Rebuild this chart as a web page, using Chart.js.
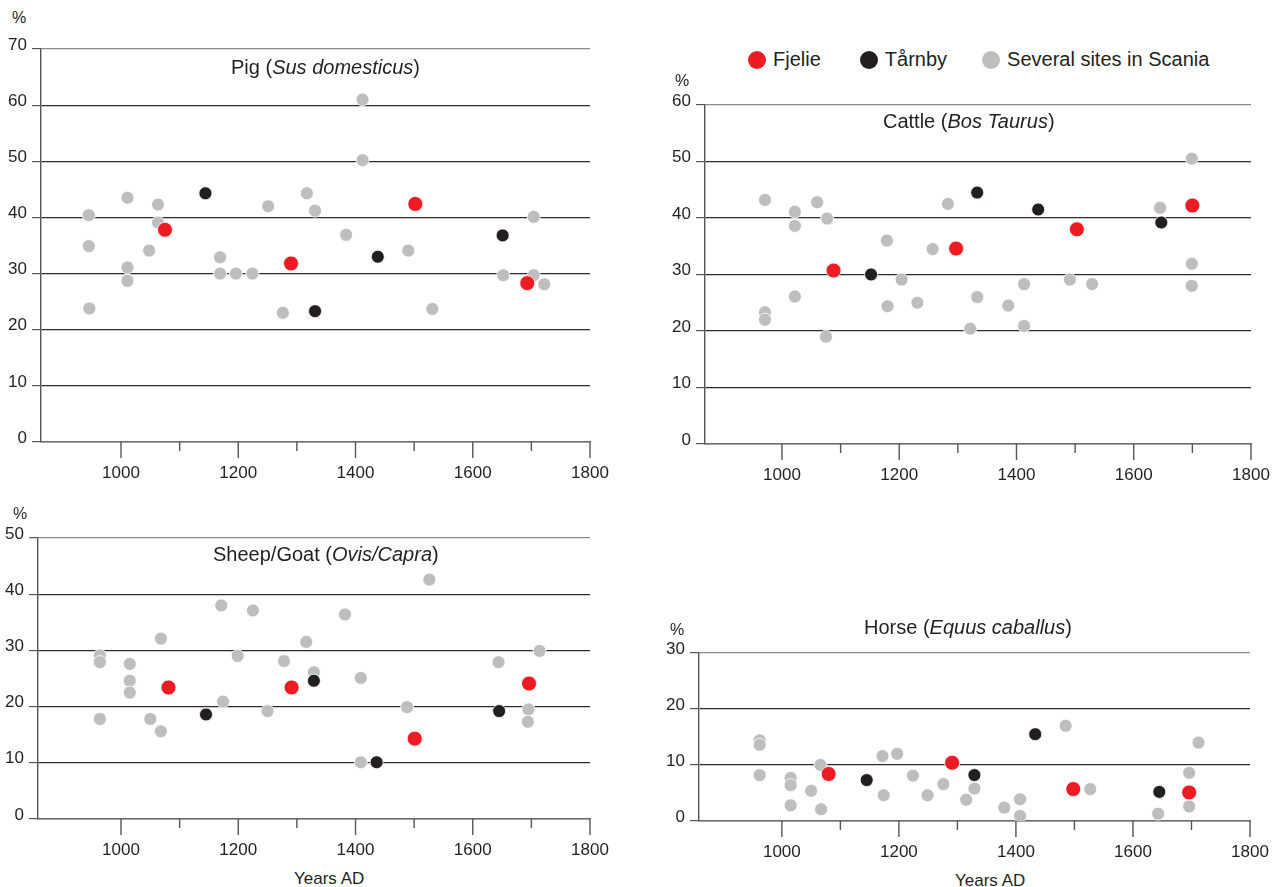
<!DOCTYPE html>
<html>
<head>
<meta charset="utf-8">
<script src="https://cdn.jsdelivr.net/npm/chart.js@4.4.0/dist/chart.umd.min.js"></script>
<style>
  body { margin: 0; background: #fff; font-family: "Liberation Sans", Arial, sans-serif; color: #231F20; }
  #page { position: relative; width: 1278px; height: 887px; overflow: hidden; }
  canvas { position: absolute; }
  .lbl { position: absolute; white-space: nowrap; line-height: 1; }
  .title { font-size: 20px; }
  .pct { font-size: 16px; }
  .axis-name { font-size: 17px; }
  .legend { position: absolute; top: 48px; left: 748px; font-size: 20px; display: flex; align-items: center; }
  .legend span.dot { display: inline-block; width: 18px; height: 18px; border-radius: 50%; margin-right: 7px; }
  .legend span.item { display: flex; align-items: center; }
</style>
</head>
<body>
<div id="page">
  <canvas id="pig"></canvas>
  <canvas id="cattle"></canvas>
  <canvas id="sheep"></canvas>
  <canvas id="horse"></canvas>

  <div class="legend">
    <span class="item"><span class="dot" style="background:#ED1C24"></span>Fjelie</span>
    <span class="item" style="margin-left:39px"><span class="dot" style="background:#231F20"></span>Tårnby</span>
    <span class="item" style="margin-left:35px"><span class="dot" style="background:#BCBEC0"></span>Several sites in Scania</span>
  </div>

  <div class="lbl title" style="left:231px; top:57px">Pig (<i>Sus domesticus</i>)</div>
  <div class="lbl title" style="left:883px; top:111px">Cattle (<i>Bos Taurus</i>)</div>
  <div class="lbl title" style="left:213px; top:544px">Sheep/Goat (<i>Ovis/Capra</i>)</div>
  <div class="lbl title" style="left:864px; top:617px">Horse (<i>Equus caballus</i>)</div>

  <div class="lbl pct" style="left:12px; top:10px">%</div>
  <div class="lbl pct" style="left:675px; top:73px">%</div>
  <div class="lbl pct" style="left:13px; top:506px">%</div>
  <div class="lbl pct" style="left:670px; top:622px">%</div>

  <div class="lbl axis-name" style="left:294px; top:870px">Years AD</div>
  <div class="lbl axis-name" style="left:955px; top:872px">Years AD</div>
</div>

<script>
// Valores: [año, %]
const pigFjelie = [[1075, 37.8], [1290, 31.8], [1502, 42.4], [1693, 28.3]];
const pigTarnby = [[1144, 44.3], [1331, 23.3], [1438, 33.0], [1651, 36.8]];
const pigScania = [[945, 40.4], [945, 34.9], [946, 23.8], [1011, 43.5], [1011, 31.1], [1011, 28.7],
  [1048, 34.1], [1063, 42.3], [1063, 39.1], [1169, 32.9], [1169, 30.0], [1196, 30.0], [1224, 30.0],
  [1251, 42.0], [1276, 23.0], [1317, 44.3], [1331, 41.2], [1384, 36.9], [1412, 61.0], [1412, 50.2],
  [1490, 34.1], [1531, 23.7], [1652, 29.7], [1704, 40.1], [1704, 29.7], [1722, 28.1]];

const cattleFjelie = [[1088, 30.7], [1297, 34.6], [1503, 38.0], [1700, 42.2]];
const cattleTarnby = [[1152, 30.0], [1333, 44.5], [1437, 41.5], [1647, 39.2]];
const cattleScania = [[971, 43.2], [971, 23.3], [971, 22.0], [1022, 41.1], [1022, 38.6], [1022, 26.1],
  [1060, 42.8], [1077, 39.9], [1075, 19.0], [1179, 36.0], [1180, 24.4], [1204, 29.1], [1231, 25.0],
  [1257, 34.5], [1283, 42.5], [1321, 20.4], [1333, 26.0], [1386, 24.5], [1413, 28.3], [1413, 20.9],
  [1491, 29.1], [1529, 28.3], [1645, 41.8], [1699, 50.5], [1699, 31.9], [1699, 28.0]];

const sheepFjelie = [[1081, 23.4], [1291, 23.4], [1501, 14.3], [1696, 24.1]];
const sheepTarnby = [[1145, 18.6], [1329, 24.6], [1436, 10.1], [1645, 19.2]];
const sheepScania = [[964, 29.1], [964, 27.9], [964, 17.8], [1015, 27.6], [1015, 24.6], [1015, 22.5],
  [1050, 17.8], [1068, 32.1], [1068, 15.6], [1171, 38.0], [1174, 20.9], [1199, 29.0], [1225, 37.1],
  [1250, 19.2], [1278, 28.1], [1316, 31.5], [1329, 26.1], [1382, 36.4], [1409, 25.1], [1409, 10.1],
  [1488, 19.9], [1526, 42.6], [1644, 27.9], [1714, 29.9], [1695, 19.5], [1694, 17.3]];

const horseFjelie = [[1080, 8.4], [1291, 10.4], [1498, 5.7], [1696, 5.1]];
const horseTarnby = [[1145, 7.3], [1329, 8.2], [1433, 15.5], [1645, 5.2]];
const horseScania = [[962, 14.4], [962, 13.6], [962, 8.2], [1015, 7.7], [1015, 6.4], [1015, 2.8],
  [1050, 5.4], [1066, 10.0], [1067, 2.1], [1172, 11.6], [1174, 4.6], [1197, 12.0], [1224, 8.1],
  [1249, 4.6], [1276, 6.6], [1315, 3.8], [1329, 5.8], [1380, 2.4], [1407, 3.9], [1407, 0.9],
  [1485, 17.0], [1527, 5.7], [1643, 1.3], [1696, 8.6], [1696, 2.6], [1712, 14.0]];

const labelYears = [1000, 1200, 1400, 1600, 1800];
const tickYears = [1000, 1100, 1200, 1300, 1400, 1500, 1600, 1700, 1800];

const colors = { fjelie: '#ED1C24', tarnby: '#231F20', scania: '#BCBEC0' };

Chart.defaults.font.family = '"Liberation Sans", Arial, sans-serif';
Chart.defaults.font.size = 17;
Chart.defaults.color = '#231F20';

// Marcas del eje X (largas cada 200 años, cortas cada 100)
const xTickMarks = {
  id: 'xTickMarks',
  afterDraw(chart) {
    const sx = chart.scales.x;
    const ctx = chart.ctx;
    const base = chart.chartArea.bottom;
    ctx.save();
    ctx.strokeStyle = '#555';
    ctx.lineWidth = 1.4;
    tickYears.forEach(function(v) {
      const px = sx.getPixelForValue(v);
      const len = v % 200 === 0 ? 16 : 9;
      ctx.beginPath();
      ctx.moveTo(px, base);
      ctx.lineTo(px, base + len);
      ctx.stroke();
    });
    ctx.restore();
  }
};

function toXY(arr) {
  return arr.map(function(p) { return { x: p[0], y: p[1] }; });
}

function makePanel(id, box, xMin, yMax, fjelie, tarnby, scania) {
  const canvas = document.getElementById(id);
  // padRight deja sitio para la etiqueta "1800" + padding de ticks (Chart.js lo suma)
  const padTop = 20, padRight = 45, xAxisH = 42;
  const cLeft = box.left - box.axisW;
  const cTop = box.top - padTop;
  const w = box.right - cLeft + padRight;
  const h = box.bottom - cTop + xAxisH;
  canvas.width = w;
  canvas.height = h;
  canvas.style.left = cLeft + 'px';
  canvas.style.top = cTop + 'px';

  const point = function(data, color, r, order) {
    return {
      data: toXY(data),
      backgroundColor: color,
      borderColor: '#ffffff',
      borderWidth: 0.8,
      pointRadius: r,
      order: order
    };
  };

  new Chart(canvas, {
    type: 'scatter',
    data: {
      datasets: [
        point(fjelie, colors.fjelie, 7.5, 0),
        point(tarnby, colors.tarnby, 6.5, 1),
        point(scania, colors.scania, 6.5, 2)
      ]
    },
    options: {
      responsive: false,
      animation: false,
      events: [],
      layout: { padding: { top: padTop, right: padRight, left: 0, bottom: 0 } },
      plugins: { legend: { display: false }, tooltip: { enabled: false } },
      scales: {
        x: {
          type: 'linear',
          min: xMin,
          max: 1800,
          grid: { display: false, drawTicks: false },
          border: { display: true, color: '#6d6d6d', width: 1.4 },
          afterBuildTicks: function(scale) {
            scale.ticks = labelYears.map(function(v) { return { value: v }; });
          },
          ticks: {
            padding: 21,
            maxRotation: 0,
            autoSkip: false,
            callback: function(v) { return String(v); }
          },
          afterFit: function(scale) { scale.height = xAxisH; }
        },
        y: {
          min: 0,
          max: yMax,
          grid: {
            drawTicks: true,
            tickLength: 9,
            lineWidth: 1.2,
            color: function(c) {
              if (c.tick && c.tick.value === yMax) return '#8a8a8a';
              if (c.tick && c.tick.value === 0) return '#6d6d6d';
              return '#2b2b2b';
            },
            tickColor: '#555'
          },
          border: { display: true, color: '#555', width: 1.4 },
          ticks: {
            stepSize: 10,
            padding: 5,
            labelOffset: -4,
            callback: function(v) { return String(v); }
          },
          afterFit: function(scale) { scale.width = box.axisW; }
        }
      }
    },
    plugins: [xTickMarks]
  });
}

makePanel('pig', { left: 41, right: 590, top: 49, bottom: 442, axisW: 41 }, 863.5, 70,
  pigFjelie, pigTarnby, pigScania);
makePanel('cattle', { left: 705.3, right: 1251.3, top: 105.3, bottom: 444.3, axisW: 45 }, 868.7, 60,
  cattleFjelie, cattleTarnby, cattleScania);
makePanel('sheep', { left: 38.3, right: 590.3, top: 537.7, bottom: 819.3, axisW: 38 }, 858.4, 50,
  sheepFjelie, sheepTarnby, sheepScania);
makePanel('horse', { left: 699.3, right: 1251, top: 653, bottom: 821, axisW: 39 }, 858.4, 30,
  horseFjelie, horseTarnby, horseScania);
</script>
</body>
</html>
